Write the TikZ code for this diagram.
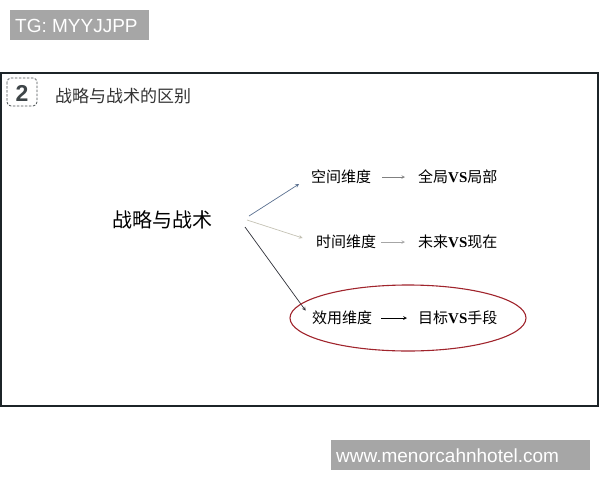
\documentclass[tikz,border=0pt]{standalone}
\usepackage{fontspec}
\setmainfont{Liberation Sans}
\newfontfamily\cjk{Noto Sans CJK SC}
\newfontfamily\vsfont{Liberation Serif}
\newcommand{\vsmark}{{\vsfont\bfseries VS}}
\definecolor{framegray}{HTML}{1C2428}
\definecolor{tagfill}{HTML}{A6A6A6}
\definecolor{ovalred}{HTML}{A0242C}
\definecolor{linkblue}{HTML}{5A7090}
\definecolor{linkbeige}{HTML}{C4C2B4}
\definecolor{linkdark}{HTML}{2E3038}
\begin{document}
\begin{tikzpicture}[x=1pt, y=-1pt,
  tag/.style={fill=tagfill, text=white, inner sep=0pt, anchor=west, font=\fontsize{19}{19}\selectfont},
  branch/.style={anchor=west, inner sep=1pt, font=\cjk\fontsize{15}{15}\selectfont},
  link/.style={-stealth, line width=0.7pt, shorten >=13pt}]
\useasboundingbox (0,0) rectangle (600,480);
% tags
\fill[tagfill] (10,10) rectangle (149,40);
\node[tag] (tg) at (15,26) {TG: MYYJJPP};
\fill[tagfill] (331,440) rectangle (590,470);
\node[tag] (site) at (336,456) {www.menorcahnhotel.com};
% frame and heading
\draw[framegray, line width=2.5pt] (1,73) rectangle (598,406);
\draw[framegray!80, dashed, line width=0.8pt, dash pattern=on 2.5pt off 1.5pt, rounded corners=4pt] (7,78) rectangle (37,106);
\node[text=framegray!85, font=\bfseries\fontsize{23}{23}\selectfont] (num) at (22,93) {2};
\node[anchor=west, inner sep=0pt, text=black!80, font=\cjk\fontsize{17}{17}\selectfont] (title) at (55,96) {战略与战术的区别};
% main node and branches
\node[inner sep=1pt, font=\cjk\fontsize{20}{20}\selectfont] (main) at (162,220) {战略与战术};
\coordinate (s1) at (249,216);
\coordinate (s2) at (247,220);
\coordinate (s3) at (245,227);
\node[branch] (space) at (310,177) {空间维度};
\node[branch] (time) at (315,242) {时间维度};
\node[branch] (use) at (311,318) {效用维度};
\node[branch] (spaceR) at (417,177) {全局\vsmark 局部};
\node[branch] (timeR) at (417,242) {未来\vsmark 现在};
\node[branch] (useR) at (417,318) {目标\vsmark 手段};
\draw[link, linkblue] (s1) -- (space.west);
\draw[link, linkbeige] (s2) -- (time.west);
\draw[link, linkdark, shorten >=9pt] (s3) -- (use.west);
\draw[-stealth, gray, line width=0.6pt] (space.east) ++(10,0) -- ([xshift=-12pt]spaceR.west);
\draw[-stealth, black!35, line width=0.6pt] (time.east) ++(4,0) -- ([xshift=-12pt]timeR.west);
\draw[-stealth, black, line width=0.7pt] (use.east) ++(8,0) -- ([xshift=-10pt]useR.west);
\draw[ovalred, line width=1.1pt] (408,318) ellipse (118 and 33);
\end{tikzpicture}
\end{document}
